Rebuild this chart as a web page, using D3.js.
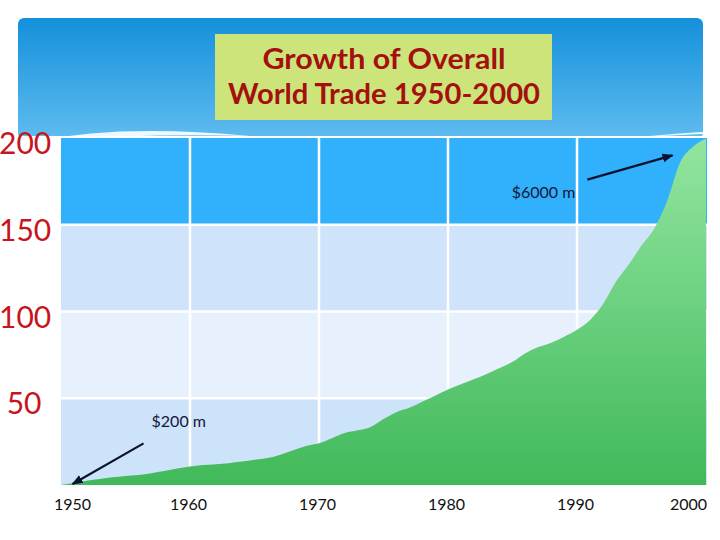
<!DOCTYPE html>
<html>
<head>
<meta charset="utf-8">
<script src="https://cdn.jsdelivr.net/npm/d3@7"></script>
<style>
  html, body { margin: 0; padding: 0; background: #ffffff; }
  svg { display: block; }
</style>
</head>
<body>
<svg id="chart" width="720" height="540"></svg>
<script>
// ---------------- data ----------------
const titleLines = ["Growth of Overall", "World Trade 1950-2000"];
const years = [1950,1951,1952,1953,1954,1955,1956,1957,1958,1959,
               1960,1961,1962,1963,1964,1965,1966,1967,1968,1969,
               1970,1971,1972,1973,1974,1975,1976,1977,1978,1979,
               1980,1981,1982,1983,1984,1985,1986,1987,1988,1989,
               1990,1991,1992,1993,1994,1995,1996,1997,1998,1999,2000];
const tradeValues = [0,1.2,2.5,3.5,4.4,5.2,5.8,6.8,8.0,9.5,
                     10.6,11.5,12.0,12.6,13.5,14.5,15.5,17.5,20.0,22.5,
                     24.0,27.0,30.0,31.5,33.4,38.0,42.0,44.5,48.0,51.5,
                     55.0,58.0,61.0,64.0,67.5,71.0,76.0,79.5,82.0,85.5,
                     89.5,95.0,104.0,117.0,127.0,138.0,148.0,164.0,186.0,195.0,199.5];
const xTickYears = [1950, 1960, 1970, 1980, 1990, 2000];
const xTickLabels = ["1950", "1960", "1970", "1980", "1990", "2000"];
const yTickValues = [200, 150, 100, 50];
const yTickLabels = ["200", "150", "100", " 50"];
const bandEdges = [0, 50, 100, 150, 200];
// annotations: arrow tip (year,value), arrow tail (year,value), label
const annotLabels = ["$200 m", "$6000 m"];
const annotTipYear = [1950.9, 1997.4];
const annotTipValue = [0.6, 190];
const annotTailYear = [1956.4, 1990.8];
const annotTailValue = [24, 176];

// ---------------- scales ----------------
const svg = d3.select("#chart");
const x = d3.scaleLinear().domain([1950, 2000]).range([61, 706]);
const y = d3.scaleLinear().domain([0, 200]).range([485, 138]);

const defs = svg.append("defs");
const hg = defs.append("linearGradient").attr("id", "hdr")
  .attr("x1", 0).attr("y1", 0).attr("x2", 0).attr("y2", 1);
hg.append("stop").attr("offset", "0%").attr("stop-color", "#1490db");
hg.append("stop").attr("offset", "100%").attr("stop-color", "#5fbcef");

const gg = defs.append("linearGradient").attr("id", "grn")
  .attr("gradientUnits", "userSpaceOnUse")
  .attr("x1", 0).attr("y1", y(200)).attr("x2", 0).attr("y2", y(0));
gg.append("stop").attr("offset", "0%").attr("stop-color", "#93e5a0");
gg.append("stop").attr("offset", "45%").attr("stop-color", "#6ed282");
gg.append("stop").attr("offset", "100%").attr("stop-color", "#41b95a");

const mk = defs.append("marker").attr("id", "arr")
  .attr("viewBox", "0 0 10 10").attr("refX", 9).attr("refY", 5)
  .attr("markerWidth", 5).attr("markerHeight", 5).attr("orient", "auto");
mk.append("path").attr("d", "M0,1 L10,5 L0,9 Z").attr("fill", "#0d1030");

// ---------------- header ----------------
svg.append("rect").attr("x", 18).attr("y", 18).attr("width", 685).attr("height", 121)
  .attr("rx", 6).attr("fill", "url(#hdr)");
// white swooshes at bottom of header
svg.append("path").attr("d", "M40,141 Q120,124 250,136 Q150,133 40,141 Z").attr("fill", "#ffffff").attr("opacity", 0.9);
svg.append("path").attr("d", "M640,137 Q680,133 703,132 L703,134 Q680,135 640,137 Z").attr("fill", "#ffffff").attr("opacity", 0.9);
svg.append("rect").attr("x", 18).attr("y", 136).attr("width", 690).attr("height", 3).attr("fill", "#ffffff");

// ---------------- bands ----------------
const bandColors = ["#cde3fa", "#e6f1fd", "#cfe3fa", "#31b1fb"];
svg.append("g").selectAll("rect")
  .data(d3.range(bandEdges.length - 1))
  .join("rect")
  .attr("x", x(1950))
  .attr("y", i => y(bandEdges[i + 1]))
  .attr("width", x(2000) - x(1950) + 1)
  .attr("height", i => y(bandEdges[i]) - y(bandEdges[i + 1]))
  .attr("fill", i => bandColors[i]);

// gridlines
const grid = svg.append("g").attr("stroke", "#ffffff").attr("stroke-width", 2.5);
grid.selectAll("line.h").data(yTickValues.filter(v => v < 200))
  .join("line").attr("class", "h")
  .attr("x1", x(1950)).attr("x2", x(2000) + 1)
  .attr("y1", d => y(d)).attr("y2", d => y(d));
grid.selectAll("line.v").data(xTickYears.filter(v => v > 1950 && v < 2000))
  .join("line").attr("class", "v")
  .attr("x1", d => x(d)).attr("x2", d => x(d))
  .attr("y1", y(200)).attr("y2", y(0));

// ---------------- area ----------------
const series = years.map((yr, i) => ({ year: yr, value: tradeValues[i] }));
const area = d3.area().x(d => x(d.year)).y0(y(0)).y1(d => y(d.value)).curve(d3.curveMonotoneX);
svg.append("path").datum(series).attr("d", area).attr("fill", "url(#grn)");

// ---------------- title ----------------
svg.append("rect").attr("x", 215).attr("y", 34).attr("width", 337).attr("height", 86).attr("fill", "#cde47b");
const titleWidths = [243, 312];
svg.append("g").selectAll("text").data(titleLines).join("text")
  .attr("x", 384).attr("y", (d, i) => 69 + i * 35)
  .attr("text-anchor", "middle")
  .attr("font-family", "Lato, 'Open Sans', sans-serif")
  .attr("font-size", 29)
  .attr("font-weight", 700)
  .attr("fill", "#a3100d")
  .attr("textLength", (d, i) => titleWidths[i])
  .attr("lengthAdjust", "spacingAndGlyphs")
  .text(d => d);

// ---------------- axes ----------------
svg.append("g").selectAll("text").data(yTickValues).join("text")
  .attr("x", -1).attr("y", d => y(d) + 16)
  .attr("text-anchor", "start")
  .attr("font-family", "Lato, 'Open Sans', sans-serif")
  .attr("font-size", 30)
  .attr("fill", "#c8141c")
  .style("white-space", "pre")
  .text((d, i) => yTickLabels[i]);

const xAxis = svg.append("g").attr("transform", `translate(0,${y(0)})`)
  .call(d3.axisBottom(x).tickValues(xTickYears).tickSize(0).tickPadding(14)
        .tickFormat((d, i) => xTickLabels[i]));
xAxis.select(".domain").remove();
xAxis.selectAll("text")
  .attr("font-family", "Lato, 'Open Sans', sans-serif")
  .attr("font-size", 16)
  .attr("fill", "#111111")
  .attr("dx", d => d === 1950 ? 11 : (d === 2000 ? -18 : -2));

// ---------------- annotations ----------------
const ann = svg.append("g");
annotLabels.forEach((lab, i) => {
  ann.append("line")
    .attr("x1", x(annotTailYear[i])).attr("y1", y(annotTailValue[i]))
    .attr("x2", x(annotTipYear[i])).attr("y2", y(annotTipValue[i]))
    .attr("stroke", "#0d1030").attr("stroke-width", 2.2)
    .attr("marker-end", "url(#arr)");
});
ann.append("text")
  .attr("x", x(annotTailYear[0]) + 8).attr("y", y(annotTailValue[0]) - 16)
  .attr("font-family", "Lato, 'Open Sans', sans-serif").attr("font-size", 16)
  .attr("fill", "#16163a").text(annotLabels[0]);
ann.append("text")
  .attr("x", x(annotTailYear[1]) - 12).attr("y", y(annotTailValue[1]) + 18)
  .attr("text-anchor", "end")
  .attr("font-family", "Lato, 'Open Sans', sans-serif").attr("font-size", 16)
  .attr("fill", "#16163a").text(annotLabels[1]);
</script>
</body>
</html>
